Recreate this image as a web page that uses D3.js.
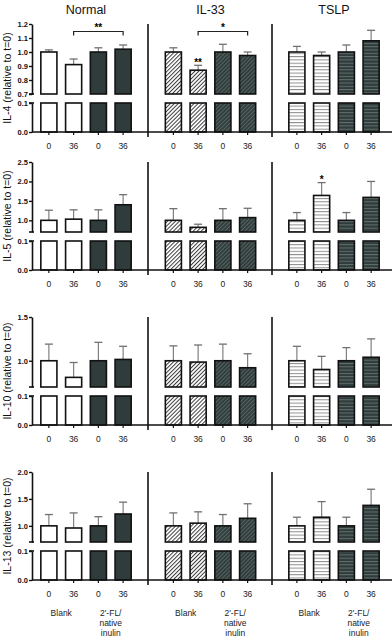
<!DOCTYPE html>
<html>
<head>
<meta charset="utf-8">
<script src="https://cdn.jsdelivr.net/npm/d3@7"></script>
<style>
body { margin: 0; background: #fff; }
svg { display: block; font-family: "Liberation Sans", Arial, sans-serif; }
</style>
</head>
<body>
<svg id="chart" width="392" height="639"></svg>
<script>
// Sample data
var panels = ["Normal", "IL-33", "TSLP"];
var timepoints = ["0", "36", "0", "36"];
var treatments = [["Blank"], ["2'-FL/", "native", "inulin"]];
var cytokines = ["IL-4", "IL-5", "IL-10", "IL-13"];

// means (relative to t=0), 4 bars per panel: Normal, IL-33, TSLP
var il4Mean = [1.00, 0.91, 1.00, 1.02, 1.00, 0.87, 1.00, 0.975, 1.00, 0.975, 1.00, 1.08];
var il4Err = [0.015, 0.04, 0.03, 0.03, 0.03, 0.035, 0.055, 0.025, 0.04, 0.025, 0.05, 0.075];
var il5Mean = [1.00, 1.03, 1.00, 1.40, 1.00, 0.82, 1.00, 1.07, 1.00, 1.64, 1.00, 1.59];
var il5Err = [0.26, 0.24, 0.27, 0.26, 0.30, 0.08, 0.30, 0.24, 0.20, 0.33, 0.20, 0.41];
var il10Mean = [1.00, 0.81, 1.00, 1.015, 1.00, 0.985, 1.00, 0.92, 1.00, 0.90, 1.00, 1.04];
var il10Err = [0.19, 0.17, 0.21, 0.15, 0.17, 0.195, 0.19, 0.16, 0.165, 0.15, 0.15, 0.21];
var il13Mean = [1.00, 0.96, 1.00, 1.22, 1.00, 1.05, 1.00, 1.14, 1.00, 1.16, 1.00, 1.38];
var il13Err = [0.21, 0.28, 0.17, 0.22, 0.24, 0.21, 0.21, 0.27, 0.16, 0.29, 0.16, 0.30];

var yMax = [1.2, 2.5, 1.5, 2.0];
var yTicks = [[0.7, 0.8, 0.9, 1.0, 1.1, 1.2], [1.0, 1.5, 2.0, 2.5], [1.0, 1.5], [1.0, 1.5, 2.0]];
var lowTicks = [0.0, 0.1];

// significance: bracket between bars of one panel, and stars above single bars
var brackets = [
    { row: 0, panel: 0, from: 1, to: 3, label: "**" },
    { row: 0, panel: 1, from: 1, to: 3, label: "*" }
];
var stars = [
    { row: 0, panel: 1, bar: 1, label: "**" },
    { row: 1, panel: 2, bar: 1, label: "*" }
];

var means = [il4Mean, il5Mean, il10Mean, il13Mean];
var errs = [il4Err, il5Err, il10Err, il13Err];

var svg = d3.select("#chart");

var rowTop = [24, 162, 317, 472];
var segH = 70, gapH = 9, lowH = 29;
var axisX = 32;
var sepX = [148, 272];
var panelRange = [[36.5, 135.5], [161, 260], [284.5, 383.5]];
var dark = "#2f3c3b";

// patterns
var defs = svg.append("defs");
function stripes(id, bg, fg, angle, gap) {
    var p = defs.append("pattern")
        .attr("id", id)
        .attr("patternUnits", "userSpaceOnUse")
        .attr("width", gap).attr("height", gap)
        .attr("patternTransform", "rotate(" + angle + ")");
    p.append("rect").attr("width", gap).attr("height", gap).attr("fill", bg);
    p.append("line").attr("x1", 0).attr("y1", 0.5).attr("x2", gap).attr("y2", 0.5)
        .attr("stroke", fg).attr("stroke-width", 1);
}
stripes("diagLight", "#fff", "#3c3c3c", -45, 2.8);
stripes("diagDark", dark, "#566462", -45, 2.8);
stripes("horzLight", "#fff", "#8c8c8c", 0, 3.3);
stripes("horzDark", dark, "#62706e", 0, 3.3);

var fills = [
    ["#fff", dark],
    ["url(#diagLight)", "url(#diagDark)"],
    ["url(#horzLight)", "url(#horzDark)"]
];

var xScales = panels.map(function (p, i) {
    return d3.scaleBand().domain(d3.range(4)).range(panelRange[i])
        .paddingInner(0.35).paddingOuter(0.175);
});

var fmt = d3.format(".1f");

cytokines.forEach(function (cyt, r) {
    var top = rowTop[r];
    var base = top + segH + gapH + lowH;
    var yTop = d3.scaleLinear().domain([0.7, yMax[r]]).range([top + segH, top]);
    var yLow = d3.scaleLinear().domain([0, 0.1]).range([base, base - lowH]);
    var g = svg.append("g");

    // bars
    panels.forEach(function (p, pi) {
        var x = xScales[pi];
        var rows = d3.range(4).map(function (k) {
            return { k: k, mean: means[r][pi * 4 + k], err: errs[r][pi * 4 + k] };
        });

        // error bars (upper only)
        var eb = g.append("g").selectAll("g").data(rows).enter().append("g");
        eb.append("line")
            .attr("x1", function (d) { return x(d.k) + x.bandwidth() / 2; })
            .attr("x2", function (d) { return x(d.k) + x.bandwidth() / 2; })
            .attr("y1", function (d) { return yTop(d.mean); })
            .attr("y2", function (d) { return yTop(d.mean + d.err); })
            .attr("stroke", "#808080").attr("stroke-width", 1.2);
        eb.append("line")
            .attr("x1", function (d) { return x(d.k) + x.bandwidth() / 2 - 4; })
            .attr("x2", function (d) { return x(d.k) + x.bandwidth() / 2 + 4; })
            .attr("y1", function (d) { return yTop(d.mean + d.err); })
            .attr("y2", function (d) { return yTop(d.mean + d.err); })
            .attr("stroke", "#707070").attr("stroke-width", 1.3);

        // upper segment
        g.append("g").selectAll("rect").data(rows).enter().append("rect")
            .attr("x", function (d) { return x(d.k); })
            .attr("width", x.bandwidth())
            .attr("y", function (d) { return yTop(d.mean); })
            .attr("height", function (d) { return yTop(0.7) - yTop(d.mean); })
            .attr("fill", function (d) { return fills[pi][d.k < 2 ? 0 : 1]; })
            .attr("stroke", "#111").attr("stroke-width", 1.6);
        // lower segment
        g.append("g").selectAll("rect").data(rows).enter().append("rect")
            .attr("x", function (d) { return x(d.k); })
            .attr("width", x.bandwidth())
            .attr("y", yLow(0.1))
            .attr("height", yLow(0) - yLow(0.1))
            .attr("fill", function (d) { return fills[pi][d.k < 2 ? 0 : 1]; })
            .attr("stroke", "#111").attr("stroke-width", 1.6);

        // x tick labels
        g.append("g").selectAll("text").data(timepoints).enter().append("text")
            .attr("x", function (d, k) { return x(k) + x.bandwidth() / 2; })
            .attr("y", base + 17)
            .attr("text-anchor", "middle")
            .attr("font-size", "8.5px")
            .attr("fill", "#222")
            .text(function (d) { return d; });
        g.append("g").selectAll("line").data(timepoints).enter().append("line")
            .attr("x1", function (d, k) { return x(k) + x.bandwidth() / 2; })
            .attr("x2", function (d, k) { return x(k) + x.bandwidth() / 2; })
            .attr("y1", base).attr("y2", base + 3)
            .attr("stroke", "#111").attr("stroke-width", 1.2);

        if (r === 0) {
            svg.append("text")
                .attr("x", (panelRange[pi][0] + panelRange[pi][1]) / 2)
                .attr("y", 14)
                .attr("text-anchor", "middle")
                .attr("font-size", "12.5px")
                .attr("fill", "#111")
                .text(p);
        }
        if (r === cytokines.length - 1) {
            treatments.forEach(function (lines, ti) {
                var cx = (x(ti * 2) + x(ti * 2 + 1) + x.bandwidth()) / 2;
                svg.append("text")
                    .attr("x", cx).attr("y", base + 36)
                    .attr("text-anchor", "middle")
                    .attr("font-size", "8.5px")
                    .attr("fill", "#222")
                    .selectAll("tspan").data(lines).enter().append("tspan")
                    .attr("x", cx)
                    .attr("dy", function (d, i) { return i ? 10 : 0; })
                    .text(function (d) { return d; });
            });
        }
    });

    // x axis baseline
    g.append("line")
        .attr("x1", axisX).attr("x2", 392)
        .attr("y1", base).attr("y2", base)
        .attr("stroke", "#111").attr("stroke-width", 1.6);

    // panel separators
    sepX.forEach(function (sx) {
        g.append("line")
            .attr("x1", sx).attr("x2", sx)
            .attr("y1", top).attr("y2", base + 5)
            .attr("stroke", "#111").attr("stroke-width", 1.6);
    });

    // y axes (broken)
    var axTop = g.append("g").attr("transform", "translate(" + axisX + ",0)")
        .call(d3.axisLeft(yTop).tickValues(yTicks[r]).tickSize(3).tickSizeOuter(0).tickFormat(fmt));
    var axLow = g.append("g").attr("transform", "translate(" + axisX + ",0)")
        .call(d3.axisLeft(yLow).tickValues(lowTicks).tickSize(3).tickSizeOuter(0).tickFormat(fmt));
    [axTop, axLow].forEach(function (ax) {
        ax.select(".domain").attr("stroke", "#111").attr("stroke-width", 1.6);
        ax.selectAll(".tick line").attr("stroke", "#111").attr("stroke-width", 1.4);
        ax.selectAll(".tick text")
            .attr("font-family", "'Liberation Sans', Arial, sans-serif")
            .attr("font-size", "7.5px").attr("font-weight", "bold").attr("fill", "#111")
            .attr("x", -4);
    });
    // break marks
    [yTop(0.7), yLow(0.1)].forEach(function (by) {
        g.append("line")
            .attr("x1", axisX - 3).attr("x2", axisX + 2)
            .attr("y1", by).attr("y2", by)
            .attr("stroke", "#111").attr("stroke-width", 1.6);
    });

    // y axis title
    g.append("text")
        .attr("transform", "translate(11," + (top + (base - top) / 2) + ") rotate(-90)")
        .attr("text-anchor", "middle")
        .attr("font-size", "10.5px")
        .attr("fill", "#111")
        .text(cyt + " (relative to t=0)");

    // significance brackets
    brackets.filter(function (b) { return b.row === r; }).forEach(function (b) {
        var x = xScales[b.panel];
        var x1 = x(b.from) + x.bandwidth() / 2, x2 = x(b.to) + x.bandwidth() / 2;
        var by = top + 7.5;
        g.append("path")
            .attr("d", "M" + x1 + "," + (by + 4) + "V" + by + "H" + x2 + "V" + (by + 4))
            .attr("fill", "none").attr("stroke", "#222").attr("stroke-width", 1.2);
        g.append("text")
            .attr("x", (x1 + x2) / 2).attr("y", by - 0.5)
            .attr("text-anchor", "middle")
            .attr("font-size", "10px").attr("font-weight", "bold")
            .text(b.label);
    });
    stars.filter(function (s) { return s.row === r; }).forEach(function (s) {
        var x = xScales[s.panel];
        var i = s.panel * 4 + s.bar;
        g.append("text")
            .attr("x", x(s.bar) + x.bandwidth() / 2)
            .attr("y", yTop(means[r][i] + errs[r][i]) + 0.5)
            .attr("text-anchor", "middle")
            .attr("font-size", "10px").attr("font-weight", "bold")
            .text(s.label);
    });
});
</script>
</body>
</html>
